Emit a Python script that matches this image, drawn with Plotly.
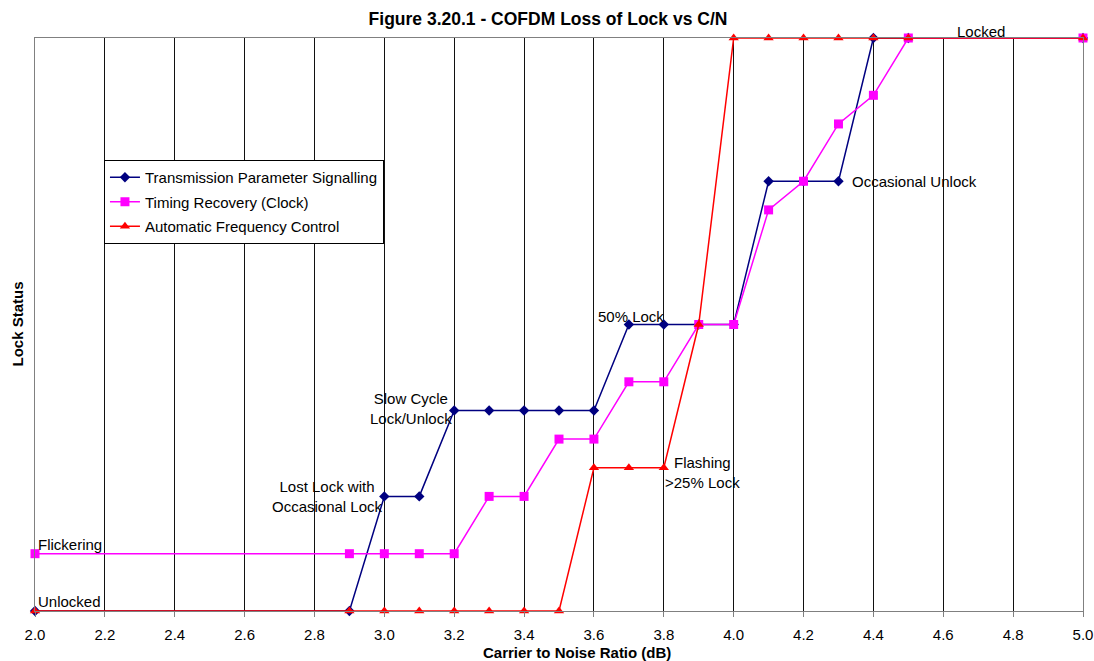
import plotly.graph_objects as go

# Carrier-to-noise ratio (dB) sample points
cn_db = [2.0, 2.9, 3.0, 3.1, 3.2, 3.3, 3.4, 3.5, 3.6, 3.7, 3.8, 3.9, 4.0,
         4.1, 4.2, 4.3, 4.4, 4.5, 5.0]

# Lock status per subsystem (0 = unlocked, 1 = locked)
tps = [0.0, 0.0, 0.2, 0.2, 0.35, 0.35, 0.35, 0.35, 0.35, 0.5, 0.5, 0.5, 0.5,
       0.75, 0.75, 0.75, 1.0, 1.0, 1.0]
timing = [0.1, 0.1, 0.1, 0.1, 0.1, 0.2, 0.2, 0.3, 0.3, 0.4, 0.4, 0.5, 0.5,
          0.7, 0.75, 0.85, 0.9, 1.0, 1.0]
afc = [0.0, 0.0, 0.0, 0.0, 0.0, 0.0, 0.0, 0.0, 0.25, 0.25, 0.25, 0.5, 1.0,
       1.0, 1.0, 1.0, 1.0, 1.0, 1.0]

series_names = ["Transmission Parameter Signalling", "Timing Recovery (Clock)",
                "Automatic Frequency Control"]

x_ticks = [2.0, 2.2, 2.4, 2.6, 2.8, 3.0, 3.2, 3.4, 3.6, 3.8, 4.0, 4.2, 4.4,
           4.6, 4.8, 5.0]

FONT = "Liberation Sans, Arial, sans-serif"
FS = 15

fig = go.Figure()
styles = [
    (tps, "#000080", "diamond", 8),
    (timing, "#FF00FF", "square", 9),
    (afc, "#FF0000", "triangle-up", 9),
]
for i, (vals, col, sym, sz) in enumerate(styles):
    fig.add_trace(go.Scatter(x=cn_db, y=vals, name=series_names[i],
                             mode="lines+markers", legendgroup=f"g{i}",
                             line=dict(color=col, width=1.5),
                             marker=dict(symbol=sym, size=sz, color=col),
                             cliponaxis=False))

labels = [
    dict(x=2.0, y=0.1, text="Flickering", xanchor="left", yanchor="bottom",
         xshift=1, yshift=-1),
    dict(x=2.0, y=0.0, text="Unlocked", xanchor="left", yanchor="bottom",
         xshift=1, yshift=-1),
    dict(x=3.0, y=0.2, text="Lost Lock with<br>Occasional Lock", xanchor="right",
         yanchor="middle", xshift=1, yshift=0, align="center"),
    dict(x=3.2, y=0.35, text="Slow Cycle<br>Lock/Unlock", xanchor="right",
         yanchor="middle", xshift=0, yshift=2, align="center"),
    dict(x=3.6, y=0.5, text="50% Lock", xanchor="left", yanchor="bottom",
         xshift=2, yshift=-2),
    dict(x=3.8, y=0.25, text="Flashing<br>>25% Lock", xanchor="left",
         yanchor="middle", xshift=-1, yshift=-5, align="center"),
    dict(x=4.3, y=0.75, text="Occasional Unlock", xanchor="left",
         yanchor="middle", xshift=12, yshift=0),
    dict(x=4.6, y=1.0, text="Locked", xanchor="left", yanchor="bottom",
         xshift=12, yshift=-4),
]
for a in labels:
    fig.add_annotation(**a, showarrow=False,
                       font=dict(family=FONT, size=FS, color="#000"))

fig.update_layout(
    width=1094, height=661,
    margin=dict(l=35, r=11, t=38, b=50, autoexpand=False),
    paper_bgcolor="white", plot_bgcolor="white",
    font=dict(family=FONT, size=FS, color="#000"),
    title=dict(text="<b>Figure 3.20.1 - COFDM Loss of Lock vs C/N</b>",
               x=548 / 1094, xanchor="center", y=1 - 19 / 661, yanchor="middle",
               font=dict(family=FONT, size=17.5)),
    legend=dict(x=0.0658, y=1 - (160 - 38) / 573, xanchor="left", yanchor="top",
                bgcolor="white", bordercolor="#000", borderwidth=1,
                font=dict(family=FONT, size=FS), traceorder="grouped",
                tracegroupgap=2, itemwidth=30),
    showlegend=True,
)
fig.update_xaxes(range=[2.0, 5.0], tickvals=x_ticks,
                 ticktext=[f"{v:.1f}" for v in x_ticks],
                 showgrid=True, gridcolor="#111", gridwidth=1,
                 showline=True, linecolor="#808080", linewidth=1, mirror=True,
                 ticks="outside", ticklen=5, tickcolor="#808080",
                 ticklabelstandoff=5, automargin=False, zeroline=False,
                 tickfont=dict(family=FONT, size=FS))
fig.update_yaxes(range=[0, 1.0], showticklabels=False, showgrid=False,
                 showline=True, linecolor="#808080", linewidth=1, mirror=True,
                 ticks="", zeroline=False, automargin=False)

# Axis titles
fig.add_annotation(text="<b>Lock Status</b>", xref="paper", yref="paper",
                   x=0, y=0.5, xanchor="center", yanchor="middle",
                   xshift=-18, textangle=-90, showarrow=False,
                   font=dict(family=FONT, size=FS))
fig.add_annotation(text="<b>Carrier to Noise Ratio (dB)</b>", xref="paper",
                   yref="paper", x=(577 - 35) / 1048, y=0, xanchor="center",
                   yanchor="middle", yshift=-41, showarrow=False,
                   font=dict(family=FONT, size=FS))

fig.write_html("out.html")
